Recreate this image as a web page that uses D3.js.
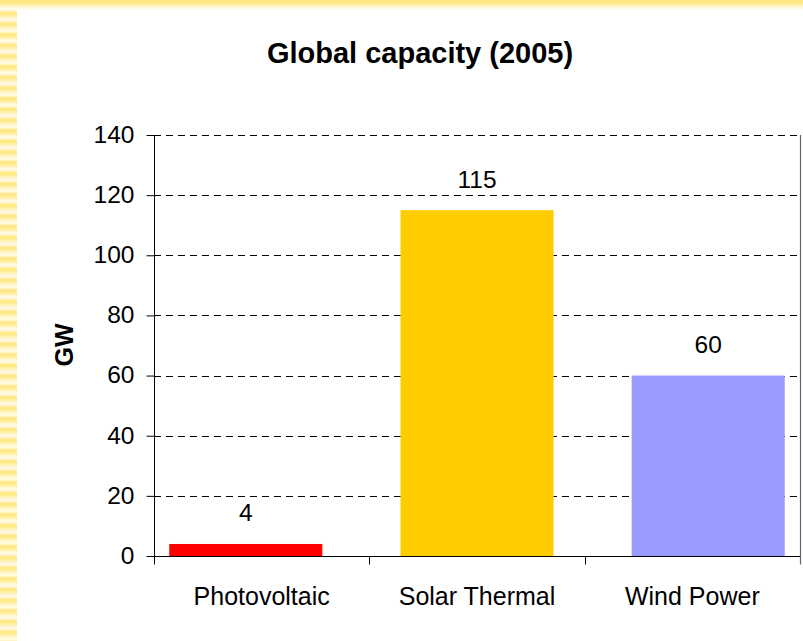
<!DOCTYPE html>
<html>
<head>
<meta charset="utf-8">
<script src="https://cdn.jsdelivr.net/npm/d3@7"></script>
<style>
html,body{margin:0;padding:0;background:#fff;}
svg{display:block;font-family:"Liberation Sans",Arial,sans-serif;}
</style>
</head>
<body>
<svg id="chart" width="803" height="641"></svg>
<script>
const categories = ["Photovoltaic", "Solar Thermal", "Wind Power"];
const values = [4, 115, 60];
const yTicks = [0, 20, 40, 60, 80, 100, 120, 140];
const barColors = ["#FF0000", "#FFCC00", "#9999FF"];
const title = "Global capacity (2005)";
const yLabel = "GW";

(function(){
const svg = d3.select("#chart");
const W = 803, H = 641;
const pLeft = 154, pRight = 800, pTop = 135, pBottom = 556;

// decorative border
const defs = svg.append("defs");
const g1 = defs.append("linearGradient").attr("id","stripeGrad").attr("x1",0).attr("y1",0).attr("x2",0).attr("y2",1);
[[0,"#fffbe9"],[0.25,"#ffe77f"],[0.45,"#ffea8e"],[0.75,"#fff6cf"],[1,"#fffbe9"]].forEach(s=>g1.append("stop").attr("offset",s[0]).attr("stop-color",s[1]));
const pat = defs.append("pattern").attr("id","stripes").attr("patternUnits","userSpaceOnUse")
  .attr("x",0).attr("y",10).attr("width",17).attr("height",10.67);
pat.append("rect").attr("width",17).attr("height",10.67).attr("fill","url(#stripeGrad)");
const g2 = defs.append("linearGradient").attr("id","topGrad").attr("x1",0).attr("y1",0).attr("x2",0).attr("y2",1);
[[0,"#ffe680"],[0.3,"#ffe680"],[0.6,"#fff3c4"],[1,"#fffdf6"]].forEach(s=>g2.append("stop").attr("offset",s[0]).attr("stop-color",s[1]));
svg.append("rect").attr("x",0).attr("y",10).attr("width",17).attr("height",H-10).attr("fill","url(#stripes)");
svg.append("rect").attr("x",0).attr("y",0).attr("width",W).attr("height",10).attr("fill","url(#topGrad)");

const y = d3.scaleLinear().domain([0,140]).range([pBottom, pTop]);
const xAxisScale = d3.scaleBand().domain(categories).range([pLeft, pRight]);
const xBar = d3.scaleBand().domain(categories).range([pLeft, pRight]).paddingInner(0.338).paddingOuter(0.066);

// gridlines
svg.append("g").selectAll("line").data(yTicks.filter(d=>d>0)).join("line")
  .attr("x1",pLeft).attr("x2",pRight)
  .attr("y1",d=>Math.round(y(d))+0.5).attr("y2",d=>Math.round(y(d))+0.5)
  .attr("stroke","#000").attr("stroke-width",1).attr("stroke-dasharray","7,5");

// right border of plot area
svg.append("line").attr("x1",pRight+0.5).attr("x2",pRight+0.5).attr("y1",pTop).attr("y2",pBottom+8)
  .attr("stroke","#666").attr("stroke-width",1.2);

// bars
svg.append("g").selectAll("rect").data(values).join("rect")
  .attr("x",(d,i)=>xBar(categories[i]))
  .attr("width",xBar.bandwidth())
  .attr("y",d=>y(d))
  .attr("height",d=>y(0)-y(d))
  .attr("fill",(d,i)=>barColors[i]);

// y axis
const yAxis = d3.axisLeft(y).tickValues(yTicks).tickSize(8).tickPadding(12).tickFormat(d3.format("d"));
const ya = svg.append("g").attr("transform",`translate(${pLeft+0.5},0)`).call(yAxis);
ya.select(".domain").attr("stroke","#000").attr("d",`M0,${pTop}V${pBottom}`);
ya.selectAll(".tick line").attr("stroke","#000");
ya.selectAll(".tick text").attr("font-size","24.5px").attr("fill","#000")
  .attr("font-family","'Liberation Sans',Arial,sans-serif").attr("dy","0.3em");

// x axis
const xa = svg.append("g").attr("transform",`translate(0,${pBottom+0.5})`);
xa.append("line").attr("x1",pLeft).attr("x2",pRight).attr("stroke","#000");
const bounds = categories.map(c=>xAxisScale(c)).concat([pRight]);
xa.selectAll("line.tk").data(bounds).join("line").attr("class","tk")
  .attr("x1",d=>Math.round(d)+0.5).attr("x2",d=>Math.round(d)+0.5).attr("y1",0).attr("y2",8)
  .attr("stroke",(d,i)=>i===bounds.length-1?"#666":"#000");
xa.selectAll("text").data(categories).join("text")
  .attr("x",d=>xAxisScale(d)+xAxisScale.bandwidth()/2)
  .attr("y",48).attr("text-anchor","middle").attr("font-size","25px").attr("fill","#000")
  .text(d=>d);

// value labels
svg.append("g").selectAll("text").data(values).join("text")
  .attr("x",(d,i)=>xBar(categories[i])+xBar.bandwidth()/2)
  .attr("y",d=>y(d)-22.5)
  .attr("text-anchor","middle").attr("font-size","24.5px").attr("fill","#000")
  .text(d=>d);

// title
svg.append("text").attr("x",420).attr("y",63).attr("text-anchor","middle")
  .attr("font-size","29px").attr("font-weight","bold").attr("fill","#000").text(title);

// y label
svg.append("text").attr("transform","translate(73,345) rotate(-90)").attr("text-anchor","middle")
  .attr("font-size","25px").attr("font-weight","bold").attr("fill","#000").text(yLabel);
})();
</script>
</body>
</html>
